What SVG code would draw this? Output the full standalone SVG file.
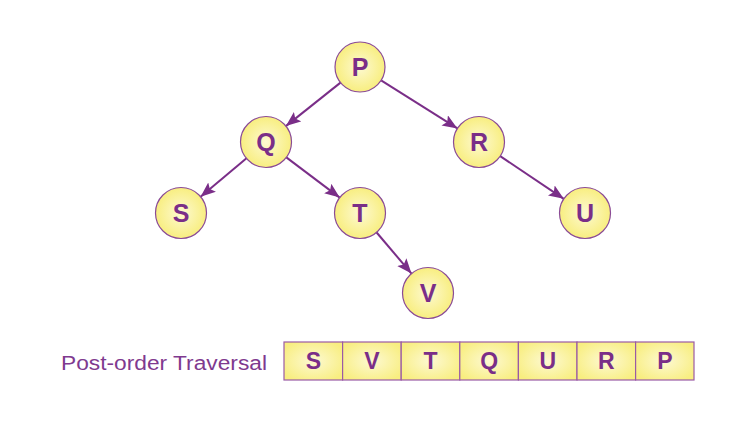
<svg xmlns="http://www.w3.org/2000/svg" width="750" height="428" viewBox="0 0 750 428">
<defs>
<radialGradient id="g" cx="50%" cy="50%" r="50%">
<stop offset="0" stop-color="#fdf9d2"/>
<stop offset="1" stop-color="#f8ee80"/>
</radialGradient>
<radialGradient id="gb" cx="50%" cy="50%" r="60%">
<stop offset="0" stop-color="#fdf9d2"/>
<stop offset="1" stop-color="#f8ee80"/>
</radialGradient>
<marker id="ah" markerUnits="userSpaceOnUse" markerWidth="16" markerHeight="14" refX="15" refY="6" orient="auto">
<path d="M0,0 L15,6 L0,12 L3,6 Z" fill="#7a2e88"/>
</marker>
<style>
.n{fill:url(#g);stroke:#8a4a96;stroke-width:1.2}
.b{fill:url(#gb);stroke:#9a5aa6;stroke-width:1.2}
.t{font-family:"Liberation Sans",Arial,sans-serif;font-weight:bold;font-size:25px;fill:#7a2e88;text-anchor:middle}
.tb{font-family:"Liberation Sans",Arial,sans-serif;font-weight:bold;font-size:23px;fill:#7a2e88;text-anchor:middle}
.e{stroke:#7a2e88;stroke-width:2;fill:none;marker-end:url(#ah)}
.lbl{font-family:"Liberation Sans",Arial,sans-serif;font-size:20px;fill:#7f3a8f}
</style>
</defs>
<rect width="750" height="428" fill="#fff"/>
<g id="edges">
<line class="e" x1="340.5" y1="82.6" x2="285.9" y2="126.1"/>
<line class="e" x1="381.1" y1="80.3" x2="457.4" y2="128.4"/>
<line class="e" x1="246.8" y1="158" x2="200.6" y2="196.7"/>
<line class="e" x1="286" y1="157.1" x2="339.7" y2="197.6"/>
<line class="e" x1="499.8" y1="155.9" x2="563.8" y2="198.8"/>
<line class="e" x1="376.2" y1="232" x2="411.5" y2="273.6"/>
</g>
<g id="P"><circle class="n" cx="360" cy="67" r="25"/><text class="t" x="360" y="76">P</text></g>
<g id="Q"><circle class="n" cx="266" cy="142" r="25.5"/><text class="t" x="266" y="151">Q</text></g>
<g id="R"><circle class="n" cx="479" cy="142" r="25.5"/><text class="t" x="479" y="151">R</text></g>
<g id="S"><circle class="n" cx="181" cy="213" r="25.5"/><text class="t" x="181" y="222">S</text></g>
<g id="T"><circle class="n" cx="360" cy="213" r="25.5"/><text class="t" x="360" y="222">T</text></g>
<g id="U"><circle class="n" cx="585" cy="213" r="25.5"/><text class="t" x="585" y="222">U</text></g>
<g id="V"><circle class="n" cx="428" cy="293" r="25.5"/><text class="t" x="428" y="302">V</text></g>
<g id="traversal">
<text class="lbl" x="61" y="370" textLength="206" lengthAdjust="spacingAndGlyphs">Post-order Traversal</text>
<rect class="b" x="284" y="342" width="58.6" height="38"/>
<rect class="b" x="342.6" y="342" width="58.6" height="38"/>
<rect class="b" x="401.2" y="342" width="58.6" height="38"/>
<rect class="b" x="459.8" y="342" width="58.6" height="38"/>
<rect class="b" x="518.4" y="342" width="58.6" height="38"/>
<rect class="b" x="577" y="342" width="58.6" height="38"/>
<rect class="b" x="635.6" y="342" width="58.4" height="38"/>
<text class="tb" x="313.3" y="369">S</text>
<text class="tb" x="371.9" y="369">V</text>
<text class="tb" x="430.5" y="369">T</text>
<text class="tb" x="489.1" y="369">Q</text>
<text class="tb" x="547.7" y="369">U</text>
<text class="tb" x="606.3" y="369">R</text>
<text class="tb" x="664.8" y="369">P</text>
</g>
</svg>
